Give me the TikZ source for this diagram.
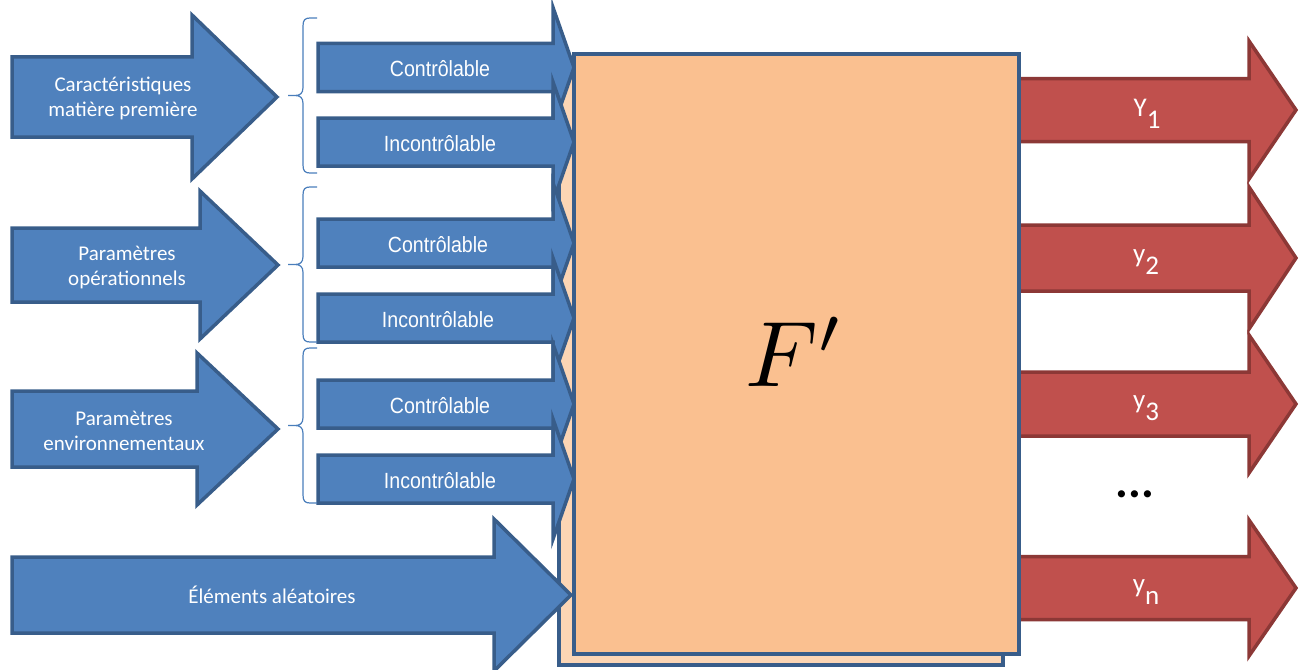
\documentclass[tikz,border=0pt]{standalone}
\usepackage{graphicx}
\usepackage{fontspec}
\setmainfont{Carlito}
\newfontfamily\arialf{Liberation Sans}
\definecolor{blueF}{HTML}{4F81BD}
\definecolor{blueD}{HTML}{385D8A}
\definecolor{redF}{HTML}{C0504D}
\definecolor{redD}{HTML}{8C3836}
\definecolor{peach}{HTML}{FAC090}
\definecolor{peachL}{HTML}{FCD5B4}
\definecolor{braceC}{HTML}{4A7EBB}
\tikzset{
 inarrow/.style={fill=blueF, draw=blueD, line width=3.5pt},
 outarrow/.style={fill=redF, draw=redD, line width=3.5pt},
 lbl/.style={text=white, font=\fontsize{21}{25}\selectfont, align=center},
 sublbl/.style={text=white, font=\arialf\fontsize{22}{22}\selectfont, xscale=0.89, inner sep=0pt},
 ylbl/.style={text=white, font=\fontsize{27}{27}\selectfont, inner sep=0pt},
 brc/.style={draw=braceC, line width=1.2pt},
 mainbox/.style={draw=blueD, line width=4pt, fill=peach, minimum width=445pt, minimum height=600pt, inner sep=0pt},
 backbox/.style={draw=blueD, line width=4pt, fill=peachL, minimum width=444pt, minimum height=600pt, inner sep=0pt},
}
% style, x0, xhead, xtip, yc, shaft half, head half
\newcommand\blkarrow[7]{\draw[#1] (#2,{#5-#6}) -- (#3,{#5-#6}) -- (#3,{#5-#7}) -- (#4,#5) -- (#3,{#5+#7}) -- (#3,{#5+#6}) -- (#2,{#5+#6}) -- cycle;}
% brace: top, bottom
\newcommand\curlybr[2]{\draw[brc] (317,#1) -- (310,#1) .. controls (305,#1) and (303,{#1+2}) .. (303,{#1+8}) -- (303,{(#1+#2)/2-8}) .. controls (303,{(#1+#2)/2-2}) and (300,{(#1+#2)/2}) .. (295,{(#1+#2)/2}) -- (288,{(#1+#2)/2}) (295,{(#1+#2)/2}) .. controls (300,{(#1+#2)/2}) and (303,{(#1+#2)/2+2}) .. (303,{(#1+#2)/2+8}) -- (303,{#2-8}) .. controls (303,{#2-2}) and (305,#2) .. (310,#2) -- (317,#2);}
\begin{document}
\begin{tikzpicture}[x=1pt,y=-1pt]
\useasboundingbox (0,0) rectangle (1300,669);
% outputs
\blkarrow{outarrow}{1015}{1249}{1296}{110}{31.5}{69}
\blkarrow{outarrow}{1015}{1249}{1296}{258}{33}{71}
\blkarrow{outarrow}{1015}{1249}{1296}{404}{32}{69}
\blkarrow{outarrow}{1015}{1249}{1296}{588}{31.5}{68}
% boxes
\node[backbox] (Fback) at (781,365) {};
\node[mainbox] (F) at (796.5,354) {};
\node[inner sep=0pt] (Flbl) at (795,352) {\scalebox{9.3}{$F'$}};
% big inputs
\blkarrow{inarrow}{12}{192}{277}{97}{40}{82}
\blkarrow{inarrow}{12}{200}{278}{265}{37}{74}
\blkarrow{inarrow}{12}{197}{278}{429}{38}{76}
\blkarrow{inarrow}{12}{494}{571}{595}{38}{76}
% small inputs
\blkarrow{inarrow}{318}{553}{574}{67.5}{24}{60}
\blkarrow{inarrow}{318}{553}{574}{142}{24}{60}
\blkarrow{inarrow}{318}{553}{574}{243}{24}{60}
\blkarrow{inarrow}{318}{553}{574}{318}{24}{60}
\blkarrow{inarrow}{318}{553}{574}{404}{24}{60}
\blkarrow{inarrow}{318}{553}{574}{479}{24}{60}
% braces
\curlybr{18}{173}
\curlybr{187}{342}
\curlybr{348}{503}
% labels
\node[lbl] (a1) at (123,98) {Caractéristiques\\matière première};
\node[lbl] (a2) at (127,268) {Paramètres\\opérationnels};
\node[lbl] (a3) at (124,431) {Paramètres\\environnementaux};
\node[lbl] (a4) at (272,595) {Éléments aléatoires};
\node[sublbl] (c1) at (440,69) {Contrôlable};
\node[sublbl] (i1) at (440,144) {Incontrôlable};
\node[sublbl] (c2) at (438,245) {Contrôlable};
\node[sublbl] (i2) at (438,320) {Incontrôlable};
\node[sublbl] (c3) at (440,406) {Contrôlable};
\node[sublbl] (i3) at (440,481) {Incontrôlable};
\node[ylbl] (y1) at (1147,114) {Y\raisebox{-12pt}{1}};
\node[ylbl] (y2) at (1146,262) {y\raisebox{-12pt}{2}};
\node[ylbl] (y3) at (1146,408) {y\raisebox{-12pt}{3}};
\node[ylbl] (yn) at (1146,592) {y\raisebox{-12pt}{n}};
\node[font=\fontsize{48}{48}\selectfont\bfseries, inner sep=0pt] (dots) at (1135,494) {...};
\end{tikzpicture}
\end{document}
